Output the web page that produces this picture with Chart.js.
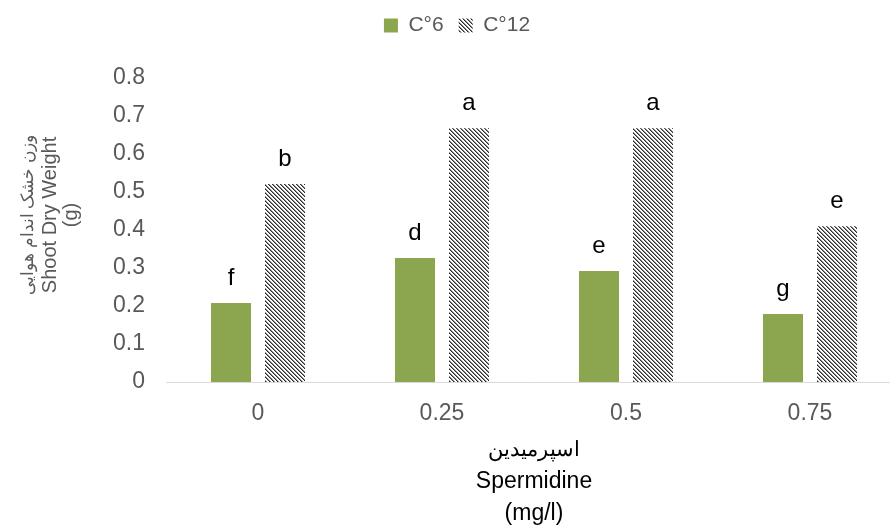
<!DOCTYPE html>
<html>
<head>
<meta charset="utf-8">
<script src="https://cdn.jsdelivr.net/npm/chart.js@4.4.1/dist/chart.umd.min.js"></script>
<style>
  html, body { margin: 0; padding: 0; background: #fff; overflow: hidden; }
  #wrap { width: 904px; height: 527px; }
</style>
</head>
<body>
<div id="wrap"><canvas id="chart" width="904" height="527"></canvas></div>
<script>
// chart data
const categories = ['0', '0.25', '0.5', '0.75'];
const seriesNames = ['C°6', 'C°12'];
const values6 = [0.208, 0.326, 0.292, 0.179];
const values12 = [0.521, 0.668, 0.668, 0.41];
const letters6 = ['f', 'd', 'e', 'g'];
const letters12 = ['b', 'a', 'a', 'e'];
const yTicks = ['0', '0.1', '0.2', '0.3', '0.4', '0.5', '0.6', '0.7', '0.8'];
const yTitle = ['وزن خشک اندام هوایی', 'Shoot Dry Weight', '(g)'];
const xTitle = ['اسپرمیدین', 'Spermidine', '(mg/l)'];

const FONT = "'Liberation Sans', Arial, sans-serif";
const GREY = '#595959';

// diagonal hatch pattern for the 12 degree series
function makeHatch() {
    const c = document.createElement('canvas');
    c.width = 4; c.height = 4;
    const g = c.getContext('2d');
    g.fillStyle = '#fff';
    g.fillRect(0, 0, 4, 4);
    for (let i = 0; i < 4; i++) {
        g.fillStyle = '#2b2b2b';
        g.fillRect(i, i, 1, 1);
        g.fillStyle = '#8a8a8a';
        g.fillRect((i + 1) % 4, i, 1, 1);
    }
    return document.getElementById('chart').getContext('2d').createPattern(c, 'repeat');
}
const hatch = makeHatch();

// extra room under the legend, and nudge it a bit right
const legendSpace = {
    id: 'legendSpace',
    beforeInit(chart) {
        const fit = chart.legend.fit;
        chart.legend.fit = function () {
            fit.call(this);
            this.height = 78;
        };
    },
    afterLayout(chart) {
        chart.legend.left += 6;
        chart.legend.right += 6;
    }
};

// letters above bars
const letterPlugin = {
    id: 'letters',
    afterDatasetsDraw(chart) {
        const ctx = chart.ctx;
        ctx.save();
        ctx.font = '24px ' + FONT;
        ctx.fillStyle = '#000';
        ctx.textAlign = 'center';
        ctx.textBaseline = 'alphabetic';
        [letters6, letters12].forEach((arr, di) => {
            chart.getDatasetMeta(di).data.forEach((bar, i) => {
                ctx.fillText(arr[i], bar.x, bar.y - 18);
            });
        });
        ctx.restore();
    }
};

// axis titles
const titlePlugin = {
    id: 'titles',
    afterDraw(chart) {
        const ctx = chart.ctx;
        const area = chart.chartArea;
        ctx.save();
        ctx.textAlign = 'center';
        ctx.textBaseline = 'middle';
        // x title
        ctx.fillStyle = '#000';
        const cx = (area.left + area.right) / 2;
        const ys = [450, 482, 514];
        xTitle.forEach((t, i) => {
            ctx.font = (i === 0 ? '21px ' : '23px ') + FONT;
            ctx.fillText(t, cx, ys[i]);
        });
        // y title, rotated
        ctx.fillStyle = GREY;
        const xs = [28, 50, 71];
        yTitle.forEach((t, i) => {
            ctx.save();
            ctx.translate(xs[i], 215);
            ctx.rotate(-Math.PI / 2);
            ctx.font = (i === 0 ? '17px ' : '20px ') + FONT;
            ctx.fillText(t, 0, 0);
            ctx.restore();
        });
        ctx.restore();
    }
};

new Chart(document.getElementById('chart'), {
    type: 'bar',
    data: {
        labels: categories,
        datasets: [
            { label: seriesNames[0], data: values6, backgroundColor: '#8ba64e', borderWidth: 0 },
            { label: seriesNames[1], data: values12, backgroundColor: hatch, borderWidth: 0 }
        ]
    },
    options: {
        responsive: false,
        animation: false,
        events: [],
        categoryPercentage: 0.587,
        barPercentage: 0.741,
        layout: { padding: { top: 0, right: 2, left: 0, bottom: 0 } },
        plugins: {
            tooltip: { enabled: false },
            legend: {
                position: 'top',
                labels: {
                    boxWidth: 14, boxHeight: 14, padding: 15,
                    color: GREY, font: { family: FONT, size: 21 }
                }
            }
        },
        scales: {
            x: {
                grid: { display: false, drawTicks: false },
                border: { color: '#d9d9d9', width: 1 },
                ticks: { color: GREY, font: { family: FONT, size: 23 }, padding: 18 },
                afterFit: s => { s.height = 145; }
            },
            y: {
                min: 0, max: 0.8,
                grid: { display: false, drawTicks: false },
                border: { display: false },
                ticks: {
                    stepSize: 0.1, padding: 21, color: GREY,
                    font: { family: FONT, size: 23 },
                    callback: (v, i) => yTicks[i]
                },
                afterFit: s => { s.width = 166; }
            }
        }
    },
    plugins: [legendSpace, letterPlugin, titlePlugin]
});
</script>
</body>
</html>
